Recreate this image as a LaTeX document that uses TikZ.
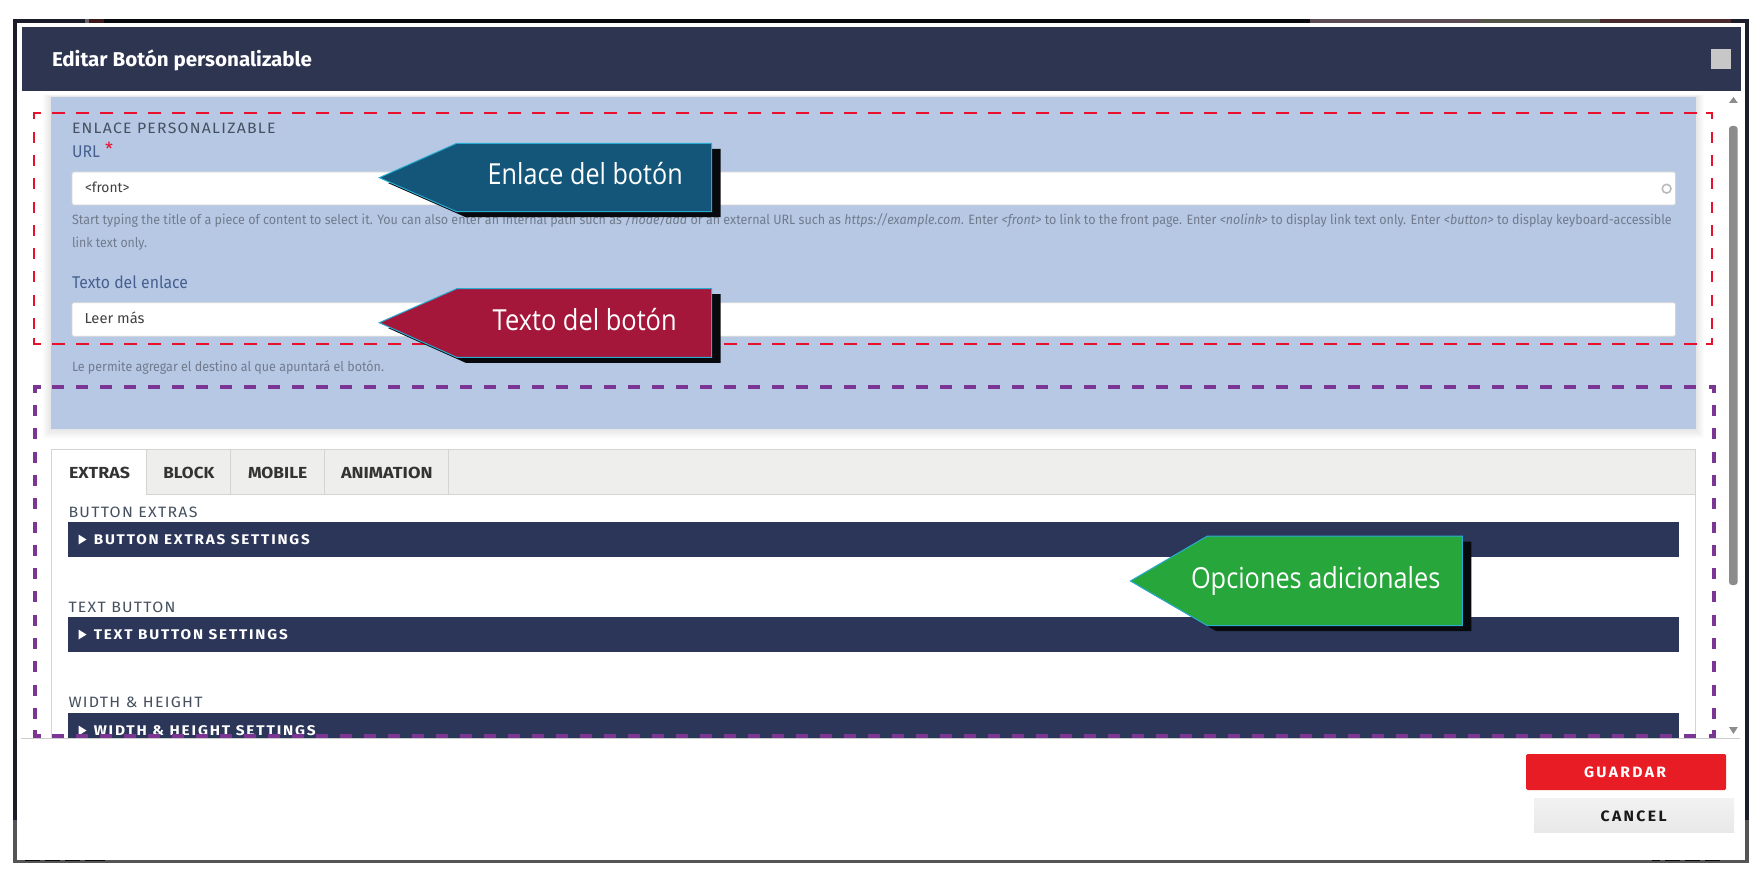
\documentclass[tikz,border=0pt]{standalone}
\usepackage{fontspec}
\usepackage{graphicx}
\setmainfont{Fira Sans}
\newfontfamily\callfont{Open Sans}
\usetikzlibrary{shadings}
\definecolor{navy}{HTML}{2E3551}
\definecolor{barnavy}{HTML}{2B3659}
\definecolor{panel}{HTML}{B7C8E5}
\definecolor{reddash}{HTML}{E8112D}
\definecolor{purp}{HTML}{7B3593}
\definecolor{framedark}{HTML}{1B1D2B}
\definecolor{framegray}{HTML}{555555}
\definecolor{helpc}{HTML}{717B8C}
\definecolor{labelc}{HTML}{46608F}
\definecolor{sectc}{HTML}{45505F}
\definecolor{linec}{HTML}{D4D4D4}
\definecolor{tabbg}{HTML}{EEEEEC}
\definecolor{cyanl}{HTML}{29ABD2}
\definecolor{shadowc}{HTML}{08090D}
\definecolor{callblue}{HTML}{14567A}
\definecolor{callred}{HTML}{A5173A}
\definecolor{callgreen}{HTML}{26A63B}
\definecolor{guard}{HTML}{E81C24}
\definecolor{stripa}{HTML}{5E4C55}
\definecolor{stripb}{HTML}{54564A}
\definecolor{stripc}{HTML}{4A2A2C}
\definecolor{stripd}{HTML}{3A181C}
\newcommand\fitw[2]{\resizebox{#1pt}{\height}{#2}}
\newcommand\callout[8]{%
  \fill[shadowc,shift={(9,5.5)}] (#1,#2) -- (#3,#4) -- (#5,#4) -- (#5,#6) -- (#3,#6) -- cycle;
  \filldraw[fill=#7,draw=cyanl,line width=1pt,line join=miter] (#1,#2) -- (#3,#4) -- (#5,#4) -- (#5,#6) -- (#3,#6) -- cycle;
}
\tikzset{
  txt/.style={inner sep=0pt,outer sep=0pt,anchor=base west},
  txtc/.style={inner sep=0pt,outer sep=0pt,anchor=base},
  hdash/.style={line width=2pt,reddash,dash pattern=on 13pt off 11pt},
  vdash/.style={line width=2pt,reddash,dash pattern=on 11pt off 12.3pt},
  corner/.style={line width=2pt,reddash},
  phdash/.style={line width=4pt,purp,dash pattern=on 12pt off 12pt},
  pvdash/.style={line width=4pt,purp,dash pattern=on 11pt off 12.3pt},
  pcorner/.style={line width=4pt,purp},
  inputbox/.style={fill=white,draw=linec,line width=0.8pt,rounded corners=2pt},
  bar/.style={fill=barnavy},
  bartxt/.style={txt,text=white,font=\fontsize{14}{16}\selectfont\bfseries},
  secttxt/.style={txt,text=sectc,font=\fontsize{15}{16}\selectfont},
  tabtxt/.style={txt,text=black!80,font=\fontsize{16}{18}\selectfont\bfseries},
  calltxt/.style={txt,text=white,font=\callfont\fontsize{29}{30}\selectfont},
  helptxt/.style={txt,text=helpc,font=\fontsize{13.5}{15}\selectfont},
}
\begin{document}
\begin{tikzpicture}[x=1pt,y=-1pt]
\useasboundingbox (0,0) rectangle (1763,882);
\fill[white] (0,0) rectangle (1763,882);
% outer frame and what shows behind it
\fill[framedark] (13,19) rectangle (1749,823);
\fill[framegray] (13,820) rectangle (1749,863);
\fill[shadowc] (104,19) rectangle (1310,23.5);
\fill[framedark] (13,19) rectangle (85,23.5);
\fill[black!60!white] (85,19) rectangle (89,23.5);
\fill[stripd] (89,19) rectangle (104,23.5);
\fill[stripa] (1310,19) rectangle (1480,23.5);
\fill[stripb] (1480,19) rectangle (1600,23.5);
\fill[stripc] (1600,19) rectangle (1731,23.5);
\foreach \a/\b in {25/40,45/60,65/80,85/105}{\fill[shadowc] (\a,859) rectangle (\b,861);}
\foreach \a/\b in {1652/1660,1665/1680,1685/1700,1705/1720}{\fill[shadowc] (\a,859) rectangle (\b,861);}
\fill[white] (17.4,23.5) rectangle (1745,859.5);
% header
\fill[navy] (21.6,27.3) rectangle (1741,91);
\node[txt,text=white,font=\fontsize{20}{22}\selectfont\bfseries] (title) at (52,66.5) {\fitw{260}{Editar Botón personalizable}};
\fill[black!22!white] (1711,49) rectangle (1731,69);
% scroll
\begin{scope}
\clip (17.4,91) rectangle (1745,738);
\foreach \i in {1,...,8}{\fill[black,opacity=0.012] (51-\i,97-\i/3) rectangle (1696+\i,429+\i*1.2);}
\fill[panel] (51,97) rectangle (1696,429);
\node[secttxt] (sec) at (72,133.2) {\fitw{203.5}{\addfontfeature{LetterSpace=8}ENLACE PERSONALIZABLE}};
\node[txt,text=labelc,font=\fontsize{17}{18}\selectfont] (url) at (72,157.8) {\fitw{28}{URL}};
\node[txt,text=reddash,font=\fontsize{18}{18}\selectfont] (star) at (105,156) {*};
\path[inputbox] (72,172) rectangle (1675.5,205);
\node[txt,text=black!75,font=\fontsize{14}{16}\selectfont] (front) at (85,193) {\fitw{44.5}{<front>}};
\draw[black!28!white,line width=1.5pt] (1666.6,188.7) circle (4.4);
\node[helptxt] (help1) at (72,224.5) {\fitw{1599.7}{Start typing the title of a piece of content to select it. You can also enter an internal path such as \textit{/node/add} or an external URL such as \textit{https://example.com}. Enter \textit{<front>} to link to the front page. Enter \textit{<nolink>} to display link text only. Enter \textit{<button>} to display keyboard-accessible}};
\node[helptxt] (help2) at (72,248) {\fitw{75}{link text only.}};
\node[txt,text=labelc,font=\fontsize{17}{18}\selectfont] (texto) at (72,288.8) {\fitw{116}{Texto del enlace}};
\path[inputbox] (72,302.7) rectangle (1675.5,336.3);
\node[txt,text=black!75,font=\fontsize{14.5}{16}\selectfont] (leer) at (84.5,324) {\fitw{60}{Leer más}};
\node[helptxt] (perm) at (72,371) {\fitw{312}{Le permite agregar el destino al que apuntará el botón.}};
% tabs
\draw[linec,line width=1pt,fill=white] (51.3,449.3) rectangle (1695,760);
\fill[tabbg] (146.6,449.8) rectangle (1694.5,494.3);
\draw[linec,line width=1pt] (146.6,449.3) -- (146.6,494.3) -- (1695,494.3);
\draw[linec,line width=1pt] (230.8,449.3) -- (230.8,494.3) (324.5,449.3) -- (324.5,494.3) (448.5,449.3) -- (448.5,494.3);
\node[tabtxt] (t1) at (69,478.3) {\fitw{61}{EXTRAS}};
\node[tabtxt] (t2) at (163.4,478.3) {\fitw{51}{BLOCK}};
\node[tabtxt] (t3) at (248,478.3) {\fitw{59.3}{MOBILE}};
\node[tabtxt] (t4) at (341,478.3) {\fitw{91.5}{ANIMATION}};
\node[secttxt] (l1) at (68.5,517.5) {\fitw{129}{\addfontfeature{LetterSpace=8}BUTTON EXTRAS}};
\node[secttxt] (l2) at (68.5,612.5) {\fitw{107}{\addfontfeature{LetterSpace=8}TEXT BUTTON}};
\node[secttxt] (l3) at (68.5,707.5) {\fitw{134}{\addfontfeature{LetterSpace=8}WIDTH \& HEIGHT}};
\fill[bar] (68,522.3) rectangle (1679,557);
\fill[bar] (68,617.3) rectangle (1679,652.3);
\fill[bar] (68,713.3) rectangle (1679,750);
\fill[white] (78.5,534.5) -- (86.5,539.5) -- (78.5,544.5) -- cycle;
\fill[white] (78.5,629.5) -- (86.5,634.5) -- (78.5,639.5) -- cycle;
\fill[white] (78.5,725.5) -- (86.5,730.5) -- (78.5,735.5) -- cycle;
\node[bartxt] (b1) at (93.8,544.3) {\fitw{216}{\addfontfeature{LetterSpace=12}BUTTON EXTRAS SETTINGS}};
\node[bartxt] (b2) at (93.8,639.3) {\fitw{194}{\addfontfeature{LetterSpace=12}TEXT BUTTON SETTINGS}};
\node[bartxt] (b3) at (93.8,735.3) {\fitw{222}{\addfontfeature{LetterSpace=12}WIDTH \& HEIGHT SETTINGS}};
% scroll bar
\fill[black!45!white,rounded corners=3pt] (1729,126) rectangle (1737.6,585);
\fill[black!45!white] (1729,103) -- (1733.4,97) -- (1737.8,103) -- cycle;
\fill[black!45!white] (1729,727) -- (1733.4,734) -- (1737.8,727) -- cycle;
% dashed regions
\draw[hdash] (52,112.7) -- (1697,112.7);
\draw[hdash] (52,343.7) -- (1697,343.7);
\draw[vdash] (34.4,131.7) -- (34.4,335);
\draw[vdash] (1712,131.7) -- (1712,335);
\draw[corner] (40.5,112.7) -| (34.4,119);
\draw[corner] (1706,112.7) -| (1712,119);
\draw[corner] (40.5,343.7) -| (34.4,338);
\draw[corner] (1706,343.7) -| (1712,338);
\draw[phdash] (52.3,387) -- (1697,387);
\draw[phdash] (52.3,736) -- (1697,736);
\draw[pvdash] (34.8,405) -- (34.8,720);
\draw[pvdash] (1714.4,405) -- (1714.4,720);
\draw[pcorner] (40.5,387) -| (34.8,393);
\draw[pcorner] (1709,387) -| (1714.4,393);
\draw[pcorner] (40.5,736) -| (34.8,730);
\draw[pcorner] (1709,736) -| (1714.4,730);
\end{scope}
% footer line
\draw[black!20!white,line width=1pt] (21,738) -- (1740,738);
% buttons
\fill[guard,rounded corners=1.5pt] (1526,754) rectangle (1726,790);
\node[txtc,text=white,font=\fontsize{15}{16}\selectfont\bfseries] (guardar) at (1625,777.2) {\fitw{82}{\addfontfeature{LetterSpace=15}GUARDAR}};
\shade[top color=black!5!white,bottom color=black!9!white] (1534,798) rectangle (1734,832.7);
\node[txtc,text=black!90,font=\fontsize{15}{16}\selectfont\bfseries] (cancel) at (1633.6,821.2) {\fitw{66}{\addfontfeature{LetterSpace=15}CANCEL}};
% callouts
\callout{379.3}{177.7}{456.7}{143.3}{711.7}{211.7}{callblue}{}
\node[calltxt] (c1) at (487.7,185) {\fitw{195}{Enlace del botón}};
\callout{379.3}{322.7}{456.7}{288.7}{711.7}{357.3}{callred}{}
\node[calltxt] (c2) at (492.7,331) {\fitw{184}{Texto del botón}};
\callout{1130.4}{581}{1207.4}{536}{1462.4}{625.7}{callgreen}{}
\node[calltxt] (c3) at (1191,588) {\fitw{249.4}{Opciones adicionales}};
\end{tikzpicture}
\end{document}
